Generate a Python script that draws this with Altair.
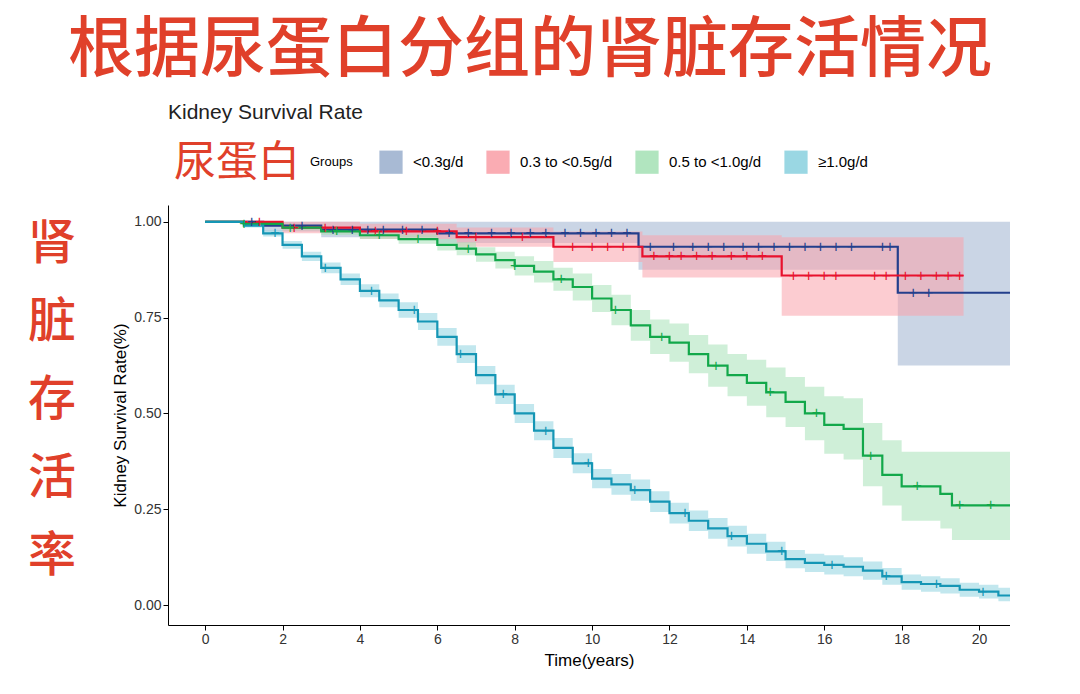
import altair as alt
import pandas as pd

GROUPS = ["<0.3g/d", "0.3 to <0.5g/d", "0.5 to <1.0g/d", "≥1.0g/d"]
LINE = ["#233f8c", "#e8112d", "#12a84a", "#1596b5"]
FILL = ["#9fb2cf", "#f9a3ab", "#a8e2b8", "#8fd3e0"]
RED = "#e0402a"

# step curves: time, survival, lower, upper
t_a = [0, 1.5, 3, 6, 11.2, 17.9, 21]
s_a = [1.0, 0.99, 0.98, 0.97, 0.935, 0.815, 0.815]
lo_a = [1.0, 0.975, 0.96, 0.945, 0.875, 0.625, 0.625]
hi_a = [1.0, 1.0, 1.0, 1.0, 1.0, 1.0, 1.0]

t_b = [0, 2, 4, 6.5, 9, 11.3, 14.9, 19.6]
s_b = [1.0, 0.985, 0.975, 0.96, 0.935, 0.91, 0.86, 0.86]
lo_b = [1.0, 0.97, 0.955, 0.935, 0.895, 0.855, 0.755, 0.755]
hi_b = [1.0, 1.0, 0.995, 0.985, 0.975, 0.965, 0.96, 0.96]

t_c = [0, 1, 2, 3, 4, 5, 6, 6.5, 7, 7.5, 8, 8.5, 9, 9.5, 10, 10.5, 11, 11.5, 12, 12.5,
       13, 13.5, 14, 14.5, 15, 15.5, 16, 16.5, 17, 17.5, 18, 18.5, 19, 19.3, 21]
s_c = [1.0, 0.995, 0.985, 0.975, 0.965, 0.955, 0.94, 0.93, 0.915, 0.9, 0.885, 0.87, 0.85,
       0.83, 0.8, 0.77, 0.73, 0.70, 0.685, 0.655, 0.625, 0.60, 0.58, 0.555, 0.53, 0.5, 0.47,
       0.46, 0.39, 0.34, 0.31, 0.31, 0.29, 0.26, 0.26]
lo_c = [1.0, 0.99, 0.978, 0.966, 0.955, 0.943, 0.925, 0.913, 0.896, 0.878, 0.86, 0.842,
        0.82, 0.795, 0.765, 0.73, 0.69, 0.655, 0.635, 0.605, 0.57, 0.545, 0.52, 0.49, 0.465,
        0.43, 0.395, 0.38, 0.31, 0.26, 0.22, 0.22, 0.2, 0.17, 0.17]
hi_c = [1.0, 1.0, 0.992, 0.984, 0.975, 0.967, 0.955, 0.947, 0.934, 0.922, 0.91, 0.898,
        0.88, 0.865, 0.835, 0.81, 0.77, 0.745, 0.735, 0.705, 0.68, 0.655, 0.64, 0.62, 0.595,
        0.57, 0.545, 0.54, 0.475, 0.43, 0.40, 0.40, 0.40, 0.40, 0.40]

t_d = [0, 1, 1.5, 2, 2.5, 3, 3.5, 4, 4.5, 5, 5.5, 6, 6.5, 7, 7.5, 8, 8.5, 9, 9.5, 10, 10.5,
       11, 11.5, 12, 12.5, 13, 13.5, 14, 14.5, 15, 15.5, 16, 16.5, 17, 17.5, 18, 18.5, 19,
       19.5, 20, 20.5, 21]
s_d = [1.0, 0.99, 0.97, 0.94, 0.91, 0.88, 0.85, 0.82, 0.795, 0.77, 0.74, 0.70, 0.655, 0.60,
       0.55, 0.50, 0.455, 0.41, 0.37, 0.33, 0.315, 0.30, 0.27, 0.24, 0.22, 0.20, 0.18, 0.16,
       0.14, 0.12, 0.11, 0.105, 0.1, 0.09, 0.075, 0.06, 0.055, 0.05, 0.04, 0.035, 0.025, 0.02]
lo_d = [1.0, 0.985, 0.962, 0.93, 0.898, 0.866, 0.835, 0.803, 0.777, 0.75, 0.718, 0.677,
        0.632, 0.576, 0.525, 0.475, 0.43, 0.384, 0.344, 0.305, 0.288, 0.272, 0.243, 0.213,
        0.193, 0.173, 0.153, 0.134, 0.115, 0.096, 0.086, 0.08, 0.075, 0.066, 0.053, 0.04,
        0.035, 0.03, 0.022, 0.017, 0.01, 0.005]
hi_d = [1.0, 0.995, 0.978, 0.95, 0.922, 0.894, 0.865, 0.837, 0.813, 0.79, 0.762, 0.723,
        0.678, 0.624, 0.575, 0.525, 0.48, 0.436, 0.396, 0.355, 0.342, 0.328, 0.297, 0.267,
        0.247, 0.227, 0.207, 0.186, 0.165, 0.144, 0.134, 0.13, 0.125, 0.114, 0.097, 0.08,
        0.075, 0.07, 0.058, 0.053, 0.045, 0.06]

# censored times
c_a = [1.2, 2.5, 3.3, 3.8, 4.2, 4.6, 5.1, 5.6, 6.3, 6.8, 7.4, 7.9, 8.4, 8.8, 9.3, 9.7,
       10.1, 10.5, 10.9, 11.5, 12.1, 12.6, 13.0, 13.4, 13.9, 14.3, 14.7, 15.1, 15.5, 15.9,
       16.3, 16.7, 17.5, 17.7, 18.3, 18.7]
c_b = [1.4, 2.3, 3.1, 4.4, 5.2, 6.0, 7.0, 8.2, 9.5, 10.0, 10.4, 10.8, 11.6, 12.0, 12.3,
       12.7, 13.1, 13.6, 14.0, 14.4, 15.2, 15.6, 16.0, 16.3, 17.3, 17.6, 18.1, 18.5, 18.9,
       19.2, 19.5]
c_c = [1.0, 2.2, 3.4, 4.5, 5.5, 6.8, 8.0, 9.2, 10.6, 11.8, 13.2, 14.6, 15.8, 17.2, 18.4,
       19.5, 20.3]
c_d = [1.8, 3.1, 4.3, 5.4, 6.6, 7.7, 8.8, 9.9, 11.1, 12.4, 13.6, 14.9, 16.2, 17.6, 18.9,
       20.1]


def step_at(ts, ss, x):
    v = ss[0]
    for t, s in zip(ts, ss):
        if t <= x:
            v = s
    return v


curves = pd.DataFrame(
    [
        {"g": g, "t": t, "s": s, "lo": lo, "hi": hi}
        for g, ts, ss, los, his in [
            (GROUPS[0], t_a, s_a, lo_a, hi_a),
            (GROUPS[1], t_b, s_b, lo_b, hi_b),
            (GROUPS[2], t_c, s_c, lo_c, hi_c),
            (GROUPS[3], t_d, s_d, lo_d, hi_d),
        ]
        for t, s, lo, hi in zip(ts, ss, los, his)
    ]
)
cens = pd.DataFrame(
    [
        {"g": g, "t": c, "s": step_at(ts, ss, c)}
        for g, cs, ts, ss in [
            (GROUPS[0], c_a, t_a, s_a),
            (GROUPS[1], c_b, t_b, s_b),
            (GROUPS[2], c_c, t_c, s_c),
            (GROUPS[3], c_d, t_d, s_d),
        ]
        for c in cs
    ]
)

FONT = "Liberation Sans"
xs = alt.Scale(domain=[-0.96, 20.8], nice=False, zero=False)
ys = alt.Scale(domain=[-0.052, 1.044], nice=False, zero=False)
X = alt.X("t:Q", scale=xs, title="Time(years)",
          axis=alt.Axis(values=list(range(0, 21, 2)), grid=False, domainColor="black",
                        tickColor="black", labelColor="#333", labelFontSize=14,
                        titleFontSize=17, titleColor="black", titleFontWeight="normal",
                        labelFont=FONT, titleFont=FONT, titlePadding=6))
Y = alt.Y("s:Q", scale=ys, title="Kidney Survival Rate(%)",
          axis=alt.Axis(values=[0, 0.25, 0.5, 0.75, 1.0], format=".2f", grid=False,
                        domainColor="black", tickColor="black", labelColor="#333",
                        labelFontSize=14, titleFontSize=17, titleColor="black",
                        titleFontWeight="normal", labelFont=FONT, titleFont=FONT))

band = alt.Chart(curves).mark_area(interpolate="step-after", opacity=0.55).encode(
    x=X, y=alt.Y("lo:Q", scale=ys), y2="hi:Q",
    fill=alt.Fill("g:N", scale=alt.Scale(domain=GROUPS, range=FILL), sort=GROUPS,
                  legend=alt.Legend(title="Groups", orient="none", legendX=142, legendY=-55,
                                    direction="horizontal", titleOrient="left",
                                    symbolType="square", symbolSize=540, symbolOpacity=0.9,
                                    symbolStrokeWidth=0, labelFontSize=15, titleFontSize=13,
                                    titleFontWeight="normal", labelFont=FONT, titleFont=FONT,
                                    columnPadding=22, titlePadding=26, labelOffset=10)),
)
color = alt.Color("g:N", scale=alt.Scale(domain=GROUPS, range=LINE), legend=None)
lines = alt.Chart(curves).mark_line(interpolate="step-after", strokeWidth=2.2).encode(
    x=X, y=Y, color=color)
ticks = alt.Chart(cens).mark_text(text="+", fontSize=16, font=FONT, baseline="middle").encode(
    x=X, y=Y, color=color)

ann = pd.DataFrame({"a": [0]})


def txt(s, x, y, size, col=RED, font="Noto Sans CJK SC", align="left", weight="normal"):
    return alt.Chart(ann).mark_text(text=s, fontSize=size, color=col, font=font, align=align,
                                    baseline="middle", fontWeight=weight).encode(
        x=alt.value(x), y=alt.value(y))


texts = [
    txt("根据尿蛋白分组的肾脏存活情况", 362, -154, 66, align="center", weight=500),
    txt("Kidney Survival Rate", 0, -92, 21, col="#222", font=FONT),
    txt("尿蛋白", 6, -42, 42),
]
for i, ch in enumerate("肾脏存活率"):
    texts.append(txt(ch, -116, 40 + i * 78, 48, align="center", weight=500))

chart = alt.layer(band, lines, ticks, *texts).resolve_scale(
    color="independent", fill="independent").properties(
    width=842, height=420, padding={"left": 160, "top": 197, "right": 0, "bottom": 60},
    autosize=alt.AutoSizeParams(type="none"),
).configure_view(stroke=None)
chart.save("out.html", embed_options={"renderer": "svg", "actions": False})
